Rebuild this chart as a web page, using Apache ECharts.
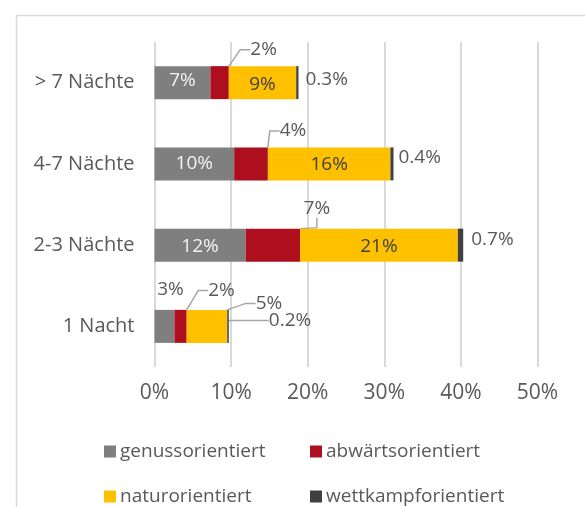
<!DOCTYPE html>
<html lang="de">
<head>
<meta charset="UTF-8">
<title>Urlaubstypen nach Aufenthaltsdauer</title>
<script src="https://cdn.jsdelivr.net/npm/echarts@6/dist/echarts.min.js"></script>
<style>html,body{margin:0;padding:0;background:#fff;}</style>
</head>
<body>
<div id="main" style="width:585px;height:507px;"></div>
<script>
var kategorien = ['> 7 Nächte', '4-7 Nächte', '2-3 Nächte', '1 Nacht'];
var typen = ['genussorientiert', 'abwärtsorientiert', 'naturorientiert', 'wettkampforientiert'];
var genuss = [7.3, 10.4, 11.9, 2.6];
var abwaerts = [2.4, 4.4, 7.1, 1.6];
var natur = [8.8, 16.0, 20.6, 5.3];
var wettkampf = [0.3, 0.4, 0.7, 0.2];
var achseMin = 0, achseMax = 50, achseSchritt = 10;

var schrift = 'Open Sans';
var grau = '#595959';

// per bar: whether a leader line is drawn
function daten(werte, linien) {
    return werte.map(function (v, i) {
        return { value: v, labelLine: { show: !!linien[i] } };
    });
}
// label offsets (dx, dy) per bar
function verschieben(offs) {
    return function (p) {
        var o = offs[p.dataIndex] || [0, 0];
        return { dx: o[0], dy: o[1] };
    };
}
var leitlinie = { length2: 10, lineStyle: { color: '#a6a6a6', width: 1.5 } };

function legende(name, x, y) {
    return {
        left: x, top: y, data: [name], padding: 0,
        itemWidth: 12, itemHeight: 12, itemGap: 0, icon: 'rect',
        textStyle: { color: grau, fontSize: 19, fontFamily: schrift, padding: [0, 0, 0, -1] }
    };
}

var myChart = echarts.init(document.getElementById('main'));
var gData = daten(genuss, [0, 0, 0, 0]);
gData[3].label = { position: 'top', color: grau };
var nData = daten(natur, [0, 0, 0, 1]);
nData[3].label = { position: 'top', color: grau };

var option = {
    animation: false,
    textStyle: { fontFamily: schrift },
    grid: { left: 154.5, right: 47.5, top: 42, bottom: 140 },
    graphic: [{
        type: 'rect', left: 14, top: 13, silent: true,
        shape: { width: 620, height: 540 },
        style: { fill: 'none', stroke: '#d9d9d9', lineWidth: 1.5 }
    }],
    legend: [
        legende(typen[0], 104, 442),
        legende(typen[1], 310, 442),
        legende(typen[2], 104, 487),
        legende(typen[3], 310, 487)
    ],
    xAxis: {
        type: 'value', min: achseMin, max: achseMax, interval: achseSchritt,
        axisLine: { show: false }, axisTick: { show: false },
        splitLine: { lineStyle: { color: '#d9d9d9', width: 2 } },
        axisLabel: { color: grau, fontSize: 21, margin: 16, formatter: '{value}%' }
    },
    yAxis: {
        type: 'category', inverse: true, data: kategorien,
        axisLine: { show: false }, axisTick: { show: false },
        axisLabel: { color: grau, fontSize: 20, margin: 20 }
    },
    series: [{
        name: typen[0], type: 'bar', stack: 'a', barWidth: 33,
        itemStyle: { color: '#7f7f7f' },
        label: {
            show: true, position: 'inside', color: '#f2f2f2', fontSize: 19,
            formatter: function (p) { return Math.round(p.value) + '%'; }
        },
        labelLayout: verschieben([[0, -2], [0, 0], [0, 1], [6, -6]]),
        data: gData
    }, {
        name: typen[1], type: 'bar', stack: 'a',
        itemStyle: { color: '#ae0f1e' },
        label: {
            show: true, position: 'top', color: grau, fontSize: 19, distance: 5,
            formatter: function (p) { return Math.round(p.value) + '%'; }
        },
        labelLine: leitlinie,
        labelLayout: verschieben([[44, -2], [42, -2], [44, -6], [41, -5]]),
        data: daten(abwaerts, [1, 1, 1, 1])
    }, {
        name: typen[2], type: 'bar', stack: 'a',
        itemStyle: { color: '#ffc000' },
        label: {
            show: true, position: 'inside', color: '#404040', fontSize: 19,
            formatter: function (p) { return Math.round(p.value) + '%'; }
        },
        labelLine: leitlinie,
        labelLayout: verschieben([[0, 2], [0, 1], [0, 1], [62, 8]]),
        data: nData
    }, {
        name: typen[3], type: 'bar', stack: 'a',
        itemStyle: { color: '#404040' },
        label: {
            show: true, position: 'right', color: grau, fontSize: 19, distance: 5,
            formatter: function (p) { return p.value.toFixed(1) + '%'; }
        },
        labelLine: leitlinie,
        labelLayout: verschieben([[2, -3], [0, -6], [3, -6], [35, -6]]),
        data: daten(wettkampf, [0, 0, 0, 1])
    }]
};
myChart.setOption(option);
</script>
</body>
</html>
